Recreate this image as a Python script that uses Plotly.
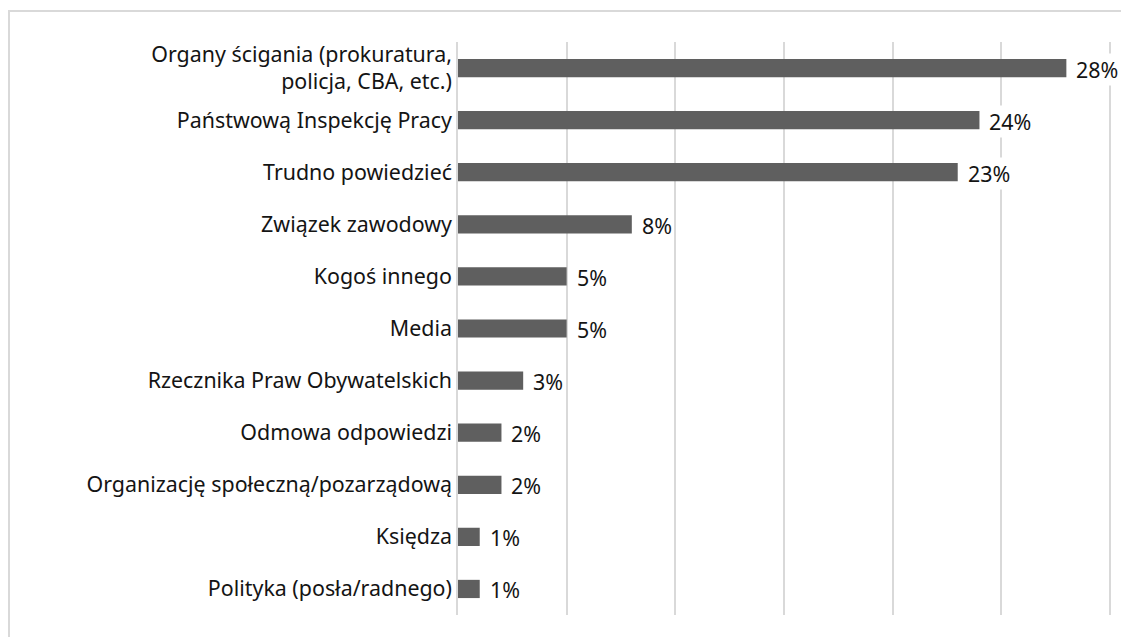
import plotly.graph_objects as go

categories = ['Organy ścigania (prokuratura,<br>policja, CBA, etc.)',
              'Państwową Inspekcję Pracy',
              'Trudno powiedzieć',
              'Związek zawodowy',
              'Kogoś innego',
              'Media',
              'Rzecznika Praw Obywatelskich',
              'Odmowa odpowiedzi',
              'Organizację społeczną/pozarządową',
              'Księdza',
              'Polityka (posła/radnego)']
values = [28, 24, 23, 8, 5, 5, 3, 2, 2, 1, 1]
labels = ['28%', '24%', '23%', '8%', '5%', '5%', '3%', '2%', '2%', '1%', '1%']

font = "Noto Sans"
fsize = 21.4

fig = go.Figure(go.Bar(x=values, y=categories, orientation='h',
                       marker=dict(color='#5f5f5f', line=dict(width=0)),
                       width=0.35, hoverinfo='skip'))

# value labels with white background (cut the gridlines like the original)
for v, c, t in zip(values, categories, labels):
    fig.add_annotation(x=v, y=c, text=t, showarrow=False, xanchor='left',
                       xshift=8, yshift=-1, bgcolor='white',
                       font=dict(family=font, size=fsize, color='#141414'))

# page body adds 8px offset, so margins are set 8px smaller on left/top
fig.update_layout(
    width=1129, height=637,
    margin=dict(l=450, r=25, t=34, b=30),
    paper_bgcolor='white', plot_bgcolor='white',
    showlegend=False,
    font=dict(family=font, size=fsize, color='#141414'),
    xaxis=dict(range=[0, 30.1], dtick=5, showgrid=True, gridcolor='#d9d9d9',
               gridwidth=1.5, showticklabels=False, zeroline=False,
               showline=False),
    yaxis=dict(autorange='reversed', showline=True, linecolor='#d9d9d9',
               linewidth=1.5, ticks='', ticklabelstandoff=0,
               tickfont=dict(family=font, size=fsize, color='#141414')),
)

# outer frame (top and left edges of the chart border)
fig.add_shape(type='line', xref='paper', yref='paper', x0=-450/654, x1=1.1,
              y0=1 + 31/573, y1=1 + 31/573, line=dict(color='#d9d9d9', width=2))
fig.add_shape(type='line', xref='paper', yref='paper', x0=-449/654, x1=-449/654,
              y0=-0.1, y1=1 + 31/573, line=dict(color='#d9d9d9', width=2))

fig.write_html("out.html")
